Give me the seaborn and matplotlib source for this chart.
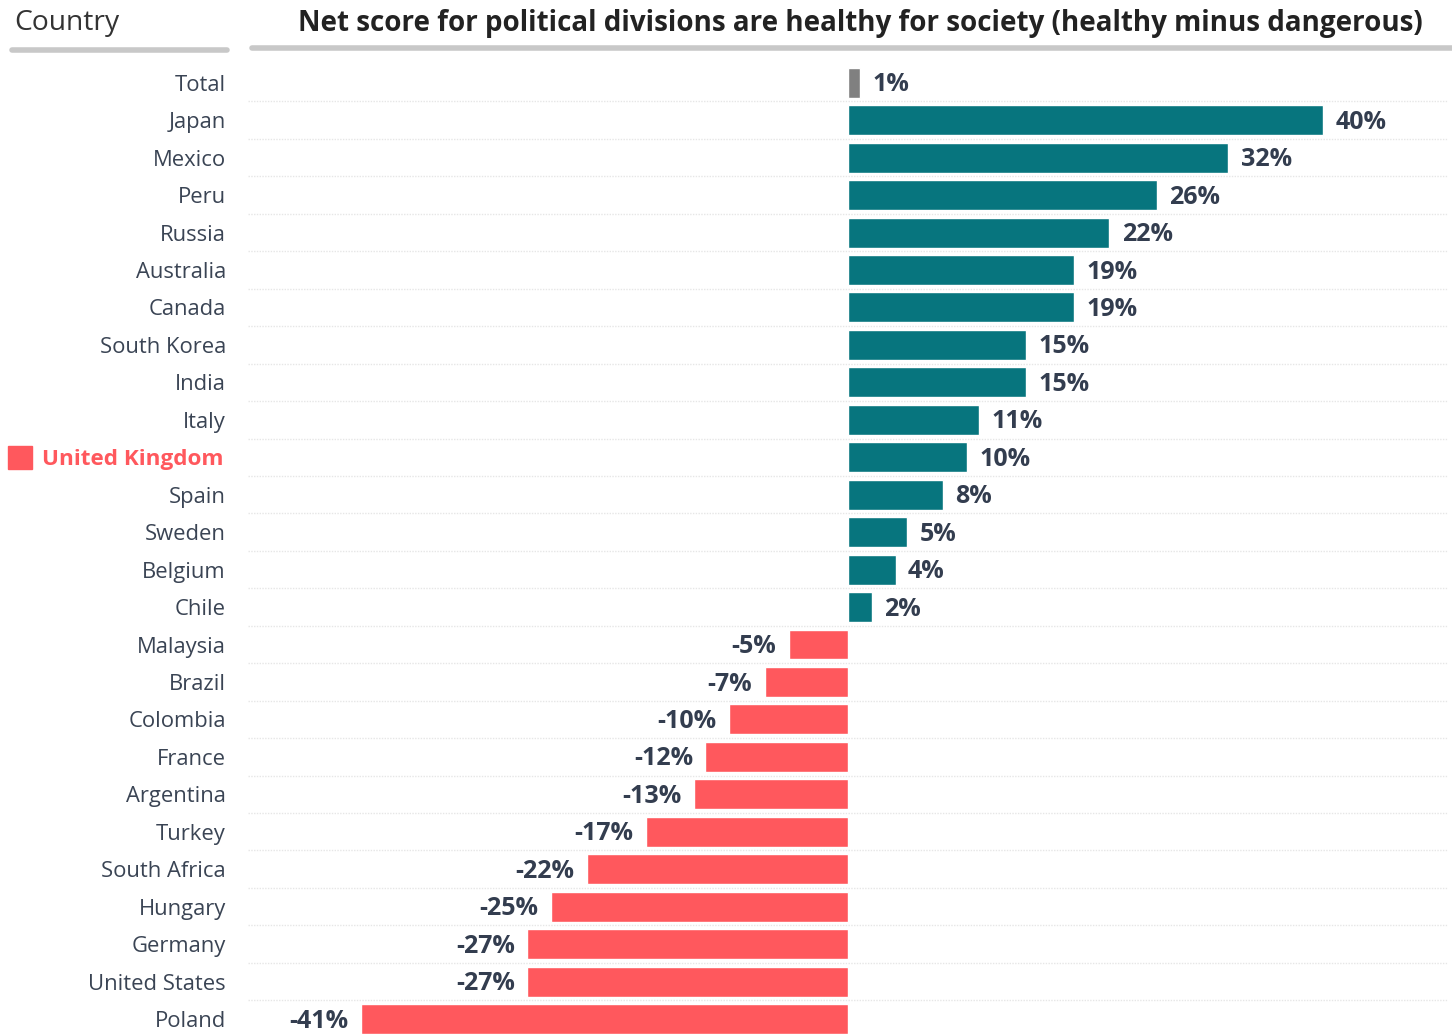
import matplotlib
matplotlib.use("Agg")
import matplotlib.pyplot as plt
import seaborn as sns
import pandas as pd
from matplotlib.patches import Rectangle
from matplotlib.lines import Line2D

countries = ["Total", "Japan", "Mexico", "Peru", "Russia", "Australia", "Canada",
             "South Korea", "India", "Italy", "United Kingdom", "Spain", "Sweden",
             "Belgium", "Chile", "Malaysia", "Brazil", "Colombia", "France",
             "Argentina", "Turkey", "South Africa", "Hungary", "Germany",
             "United States", "Poland"]
net_scores = [1, 40, 32, 26, 22, 19, 19, 15, 15, 11, 10, 8, 5, 4, 2,
              -5, -7, -10, -12, -13, -17, -22, -25, -27, -27, -41]

title = "Net score for political divisions are healthy for society (healthy minus dangerous)"
header = "Country"
highlight = "United Kingdom"

TEAL = "#07757e"
RED = "#ff585d"
GREY = "#808080"
TEXT = "#3a4454"
LABEL = "#333d4f"

sns.set_theme(style="white")
plt.rcParams["font.family"] = ["Open Sans", "DejaVu Sans"]

df = pd.DataFrame({"country": countries, "score": net_scores})
colors = {}
for c, v in zip(countries, net_scores):
    colors[c] = GREY if c == "Total" else (TEAL if v >= 0 else RED)

W, H = 1452, 1034
fig = plt.figure(figsize=(W / 100, H / 100), dpi=100)
ax = fig.add_axes([248 / W, 0, 1200 / W, 970 / H])

sns.barplot(data=df, x="score", y="country", hue="country", palette=colors,
            order=countries, legend=False, width=0.8, ax=ax, orient="h",
            saturation=1)

ax.set_xlim(-50.5, 50.5)
ax.set_ylim(25.4, -0.5)
for s in ax.spines.values():
    s.set_visible(False)
ax.set_xticks([])
ax.set_xlabel("")
ax.set_ylabel("")

# dotted separators between rows
for i in range(len(countries) - 1):
    ax.axhline(i + 0.5, color="#e6e6e6", lw=1.0, ls=(0, (1, 1)), zorder=0)

# value labels
for i, v in enumerate(net_scores):
    off = 9 if v >= 0 else -9
    ax.annotate(f"{v}%", (v, i), xytext=(off, -1.5), textcoords="offset points",
                ha="left" if v >= 0 else "right", va="center", fontsize=18,
                fontweight="bold", color=LABEL)

# category labels
ax.set_yticks(range(len(countries)))
ax.set_yticklabels(countries)
ax.tick_params(axis="y", length=0, pad=16, labelsize=15.8, labelcolor=TEXT)
for lbl in ax.get_yticklabels():
    if lbl.get_text() == highlight:
        lbl.set_color(RED)
        lbl.set_fontweight("bold")
        lbl.set_fontsize(16.2)
        lbl.set_x(-2 / 1200)

# marker square next to the highlighted country
hi = countries.index(highlight)
y_pix = H - (64.3 + 37.44 * (hi + 0.5))
fig.patches.append(Rectangle((8 / W, (y_pix - 12) / H), 24 / W, 23 / H,
                             transform=fig.transFigure, color=RED))

# headers with grey rules underneath
fig.text(14 / W, 1 - 23 / H, header, ha="left", va="center", fontsize=20.3,
         color="#333333")
fig.text(860 / W, 1 - 23 / H, title, ha="center", va="center", fontsize=20,
         fontweight="bold", color="#222222")
fig.add_artist(Line2D([12 / W, 227 / W], [1 - 50 / H, 1 - 50 / H],
                      transform=fig.transFigure, color="#c8c8c8", lw=4))
fig.add_artist(Line2D([252 / W, 1452 / W], [1 - 48 / H, 1 - 48 / H],
                      transform=fig.transFigure, color="#c8c8c8", lw=4))

fig.savefig("out.png", dpi=100, facecolor="white")
